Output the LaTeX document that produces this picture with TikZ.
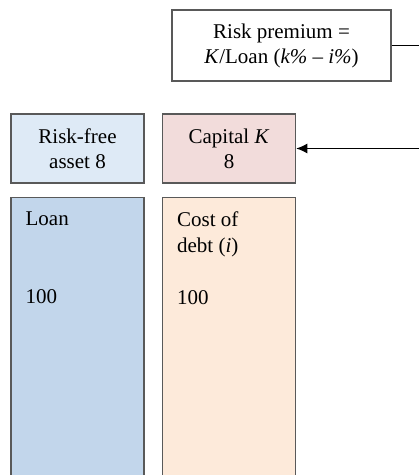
\documentclass[tikz,border=0pt]{standalone}
\usepackage{fontspec}
\setmainfont{Liberation Serif}
\usetikzlibrary{positioning,arrows.meta}
\definecolor{rimgray}{HTML}{595959}
\definecolor{safeblue}{HTML}{DEEAF6}
\definecolor{capred}{HTML}{F2DCDB}
\definecolor{loanblue}{HTML}{C2D6EB}
\definecolor{debtpeach}{HTML}{FDEADA}
\begin{document}
\begin{tikzpicture}[x=0.5pt,y=-0.5pt,
      block/.style={
        % The shape:
        rectangle,inner sep=0pt,minimum width=66.5pt,minimum height=34.5pt,
        % The rest
        line width=0.75pt,draw=rimgray,align=center,
        font=\fontsize{10.5}{12.5}\selectfont},
      tall/.style={block,minimum height=144.5pt},
      entry/.style={anchor=north west,inner sep=7.5pt,align=left,
        font=\fontsize{10.5}{13}\selectfont}]
    \clip (0,0) rectangle (419,475);
    \node(prem)[block, fill=white, minimum width=109.5pt, minimum height=35.5pt] at (281.5,45.5)
      {Risk premium =\\ \textit{K}/Loan (\textit{k\%} -- \textit{i\%})};
    \node(rf)[block, fill=safeblue] at (77.5,148.5){Risk-free\\ asset 8};
    \node(cap)[block, fill=capred, right=8.5pt of rf]{Capital \textit{K}\\ 8};
    \node(loan)[tall, fill=loanblue, below=6.5pt of rf]{};
    \node(debt)[tall, fill=debtpeach, below=6.5pt of cap]{};
    \node(loantxt)[entry] at (loan.north west){Loan\\[13pt] \\ 100};
    \node(debttxt)[entry] at (debt.north west){Cost of\\ debt (\textit{i})\\[13pt] 100};
    \coordinate (rim) at (419,0);
    \draw[line width=0.6pt] (prem.east) -- (prem.east -| rim);
    \draw[line width=0.6pt, -{Latex[length=5.5pt,width=5pt]}] (cap.east -| rim) -- (cap.east);
  \end{tikzpicture}
\end{document}
